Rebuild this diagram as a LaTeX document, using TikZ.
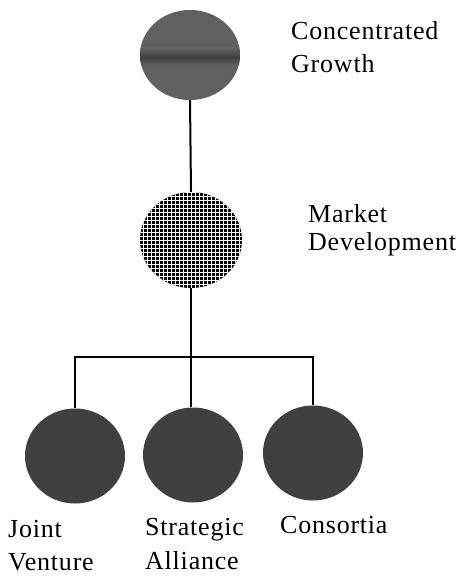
\documentclass[tikz,border=0pt]{standalone}
\usepackage{fontspec}
\setmainfont{Liberation Serif}[LetterSpace=3]
\usetikzlibrary{shapes.geometric}

\begin{document}
\begin{tikzpicture}[x=1pt,y=-1pt,
  blob/.style={ellipse, inner sep=0pt, minimum width=100pt, minimum height=95pt},
  link/.style={line width=2pt, black},
  lbl/.style={anchor=base west, inner sep=0pt, font=\fontsize{26}{30}\selectfont}]
\useasboundingbox (0,0) rectangle (465,577);

% connectors (drawn first, the circles sit on top)
\coordinate (bar) at (191,357);
\node[blob, minimum height=90pt] (cg) at (190,55) {};
\node[blob, minimum width=102pt, minimum height=96pt] (md) at (191,240) {};
\node[blob] (jv) at (75,456) {};
\node[blob] (sa) at (193,455) {};
\node[blob] (co) at (313,453) {};

\draw[link] (cg.south) -- (md.north);
\draw[link] (md.south) -- (md.south |- sa.north);
\draw[link] (jv.north) -- (jv.north |- bar) -- (co.north |- bar) -- (co.north);

% concentrated growth: dense halftone with a darker band
\fill[black!62] (cg.center) ellipse [x radius=50, y radius=45];
\begin{scope}
  \clip (cg.center) ellipse [x radius=50, y radius=45];
  \shade[top color=black!62, bottom color=black!62, middle color=black!75]
    (140,48) rectangle (241,66);
\end{scope}

% market development: coarse dot grid
\fill[black] (md.center) ellipse [x radius=51, y radius=48];
\begin{scope}
  \clip (md.center) ellipse [x radius=51, y radius=48];
  \foreach \k in {-52,-48,...,52} {
    \draw[white, line width=0.9pt] (191+\k,190) -- (191+\k,290);
    \draw[white, line width=0.9pt] (138,240+\k) -- (244,240+\k);
  }
\end{scope}

% alliance forms: dark grey
\fill[black!75] (jv.center) ellipse [x radius=50, y radius=47.5];
\fill[black!75] (sa.center) ellipse [x radius=50, y radius=47.5];
\fill[black!75] (co.center) ellipse [x radius=50, y radius=47.5];

% labels
\node[lbl] (cg1) at (291,40) {Concentrated};
\node[lbl] (cg2) at (291,73) {Growth};
\node[lbl] (md1) at (308,222) {Market};
\node[lbl] (md2) at (308,250) {Development};
\node[lbl] (jv1) at (8,537) {Joint};
\node[lbl] (jv2) at (8,570) {Venture};
\node[lbl] (sa1) at (145,535) {Strategic};
\node[lbl] (sa2) at (145,569) {Alliance};
\node[lbl] (co1) at (280,533) {Consortia};
\end{tikzpicture}
\end{document}
